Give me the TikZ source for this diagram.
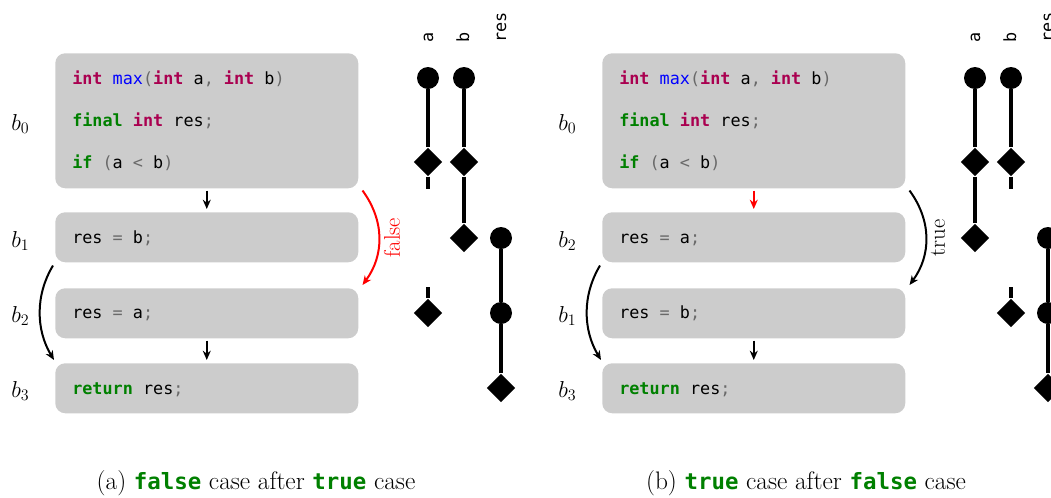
\documentclass[tikz,border=0pt]{standalone}
\usepackage{fontspec}
\usetikzlibrary{arrows.meta,shapes.geometric}
\newfontfamily\codefont{DejaVu Sans Mono}
\definecolor{kwint}{RGB}{170,0,80}
\definecolor{kwgreen}{RGB}{0,128,0}
\definecolor{fnblue}{RGB}{0,0,255}
\definecolor{pungray}{RGB}{105,105,105}
\definecolor{boxgray}{RGB}{204,204,204}
\definecolor{flowred}{RGB}{255,0,0}
% syntax colouring helpers
\newcommand\kwI[1]{\textcolor{kwint}{\bfseries #1}}
\newcommand\kwG[1]{\textcolor{kwgreen}{\bfseries #1}}
\newcommand\fnB[1]{\textcolor{fnblue}{#1}}
\newcommand\pun[1]{\textcolor{pungray}{#1}}
\newcommand\capkw[1]{{\codefont\bfseries\fontsize{16.8}{20}\selectfont\color{kwgreen}#1}}
\tikzset{
  blk/.style={fill=boxgray, draw=none, rounded corners=7.5pt, inner sep=0pt,
              minimum width=227.25pt, anchor=north west},
  code/.style={anchor=base west, inner sep=0pt, font=\codefont\fontsize{12.6}{15}\selectfont},
  blab/.style={anchor=base west, inner sep=0pt, font=\fontsize{17.28}{20}\selectfont},
  flow/.style={-{Stealth[length=7pt,width=6pt]}, line width=1.5pt},
  life/.style={line width=3pt},
  dot/.style={circle, fill, inner sep=0pt, minimum size=16.5pt},
  dmd/.style={diamond, fill, inner sep=0pt, minimum width=21.5pt, minimum height=21.5pt},
  vlab/.style={rotate=90, anchor=base west, inner sep=0pt, font=\codefont\fontsize{12.6}{15}\selectfont},
  elab/.style={rotate=90, anchor=north, inner sep=3pt, font=\fontsize{17}{20}\selectfont},
  captext/.style={anchor=base, inner sep=0pt, font=\fontsize{19}{22}\selectfont},
}
\begin{document}
\begin{tikzpicture}[x=0.75pt, y=-0.75pt]
\useasboundingbox (0,0) rectangle (1051,497);

% ---------------- left panel: false case after true case ----------------
\node[blk, minimum height=101.25pt] (L0) at (55,53) {};
\node[blk, minimum height=37.5pt] (L1) at (55,212) {};
\node[blk, minimum height=37.5pt] (L2) at (55,288) {};
\node[blk, minimum height=37.5pt] (L3) at (55,363) {};

\node[code] (L0a) at (72,84) {\kwI{int} \fnB{max}\pun{(}\kwI{int} a\pun{,} \kwI{int} b\pun{)}};
\node[code] (L0b) at (72,126) {\kwG{final} \kwI{int} res\pun{;}};
\node[code] (L0c) at (72,168) {\kwG{if} \pun{(}a \pun{<} b\pun{)}};
\node[code] (L1a) at (72,243) {res \pun{=} b\pun{;}};
\node[code] (L2a) at (72,318) {res \pun{=} a\pun{;}};
\node[code] (L3a) at (72,394) {\kwG{return} res\pun{;}};

\node[blab] (Lb0) at (11,130) {$b_0$};
\node[blab] (Lb1) at (11,247) {$b_1$};
\node[blab] (Lb2) at (11,322) {$b_2$};
\node[blab] (Lb3) at (11,397) {$b_3$};

\draw[flow, shorten <=1.5pt, shorten >=2.25pt] (L0.south) -- (L1.north);
\draw[flow, shorten <=1.5pt, shorten >=2.25pt] (L2.south) -- (L3.north);
\draw[flow, flowred] ([xshift=3pt,yshift=-1.5pt]L0.south east)
   .. controls +(22,30) and +(22,-30) .. ([xshift=3pt,yshift=2.25pt]L2.north east)
   node[elab, pos=0.5, text=flowred] (Lfalse) {false};
\draw[flow] ([xshift=-1.5pt,yshift=-2.25pt]L1.south west)
   .. controls +(-18,30) and +(-18,-30) .. ([xshift=-0.75pt,yshift=2.25pt]L3.north west);

% variable lifelines
\node[vlab] (Lva) at (433,43) {a};
\node[vlab] (Lvb) at (469,43) {b};
\node[vlab] (Lvr) at (506,43) {res};

\node[dot] (La0) at (428,78) {};
\node[dmd] (La1) at (428,162) {};
\coordinate (La2) at (428,189);
\coordinate (La3) at (428,287);
\node[dmd] (La4) at (428,313) {};
\draw[life] (La0) -- (La1) -- (La2);
\draw[life] (La3) -- (La4);

\node[dot] (Lb0d) at (464,78) {};
\node[dmd] (Lb1d) at (464,162) {};
\node[dmd] (Lb2d) at (464,238) {};
\draw[life] (Lb0d) -- (Lb1d) -- (Lb2d);

\node[dot] (Lr0) at (501,238) {};
\node[dot] (Lr1) at (501,313) {};
\node[dmd] (Lr2) at (501,388) {};
\draw[life] (Lr0) -- (Lr1) -- (Lr2);

\node[captext] (capA) at (256,489) {(a) \capkw{false} case after \capkw{true} case};

% ---------------- right panel: true case after false case ----------------
\node[blk, minimum height=101.25pt] (R0) at (602,53) {};
\node[blk, minimum height=37.5pt] (R2) at (602,212) {};
\node[blk, minimum height=37.5pt] (R1) at (602,288) {};
\node[blk, minimum height=37.5pt] (R3) at (602,363) {};

\node[code] (R0a) at (619,84) {\kwI{int} \fnB{max}\pun{(}\kwI{int} a\pun{,} \kwI{int} b\pun{)}};
\node[code] (R0b) at (619,126) {\kwG{final} \kwI{int} res\pun{;}};
\node[code] (R0c) at (619,168) {\kwG{if} \pun{(}a \pun{<} b\pun{)}};
\node[code] (R2a) at (619,243) {res \pun{=} a\pun{;}};
\node[code] (R1a) at (619,318) {res \pun{=} b\pun{;}};
\node[code] (R3a) at (619,394) {\kwG{return} res\pun{;}};

\node[blab] (Rb0) at (558,130) {$b_0$};
\node[blab] (Rb2) at (558,247) {$b_2$};
\node[blab] (Rb1) at (558,322) {$b_1$};
\node[blab] (Rb3) at (558,397) {$b_3$};

\draw[flow, flowred, shorten <=1.5pt, shorten >=2.25pt] (R0.south) -- (R2.north);
\draw[flow, shorten <=1.5pt, shorten >=2.25pt] (R1.south) -- (R3.north);
\draw[flow] ([xshift=3pt,yshift=-1.5pt]R0.south east)
   .. controls +(22,30) and +(22,-30) .. ([xshift=3pt,yshift=2.25pt]R1.north east)
   node[elab, pos=0.5] (Rtrue) {true};
\draw[flow] ([xshift=-1.5pt,yshift=-2.25pt]R2.south west)
   .. controls +(-18,30) and +(-18,-30) .. ([xshift=-0.75pt,yshift=2.25pt]R3.north west);

\node[vlab] (Rva) at (980,43) {a};
\node[vlab] (Rvb) at (1016,43) {b};
\node[vlab] (Rvr) at (1053,43) {res};

\node[dot] (Ra0) at (975,78) {};
\node[dmd] (Ra1) at (975,162) {};
\node[dmd] (Ra2) at (975,238) {};
\draw[life] (Ra0) -- (Ra1) -- (Ra2);

\node[dot] (Rb0d) at (1011,78) {};
\node[dmd] (Rb1d) at (1011,162) {};
\coordinate (Rb2c) at (1011,189);
\coordinate (Rb3c) at (1011,287);
\node[dmd] (Rb4d) at (1011,313) {};
\draw[life] (Rb0d) -- (Rb1d) -- (Rb2c);
\draw[life] (Rb3c) -- (Rb4d);

\node[dot] (Rr0) at (1048,238) {};
\node[dot] (Rr1) at (1048,313) {};
\node[dmd] (Rr2) at (1048,388) {};
\draw[life] (Rr0) -- (Rr1) -- (Rr2);

\node[captext] (capB) at (806,489) {(b) \capkw{true} case after \capkw{false} case};
\end{tikzpicture}
\end{document}
